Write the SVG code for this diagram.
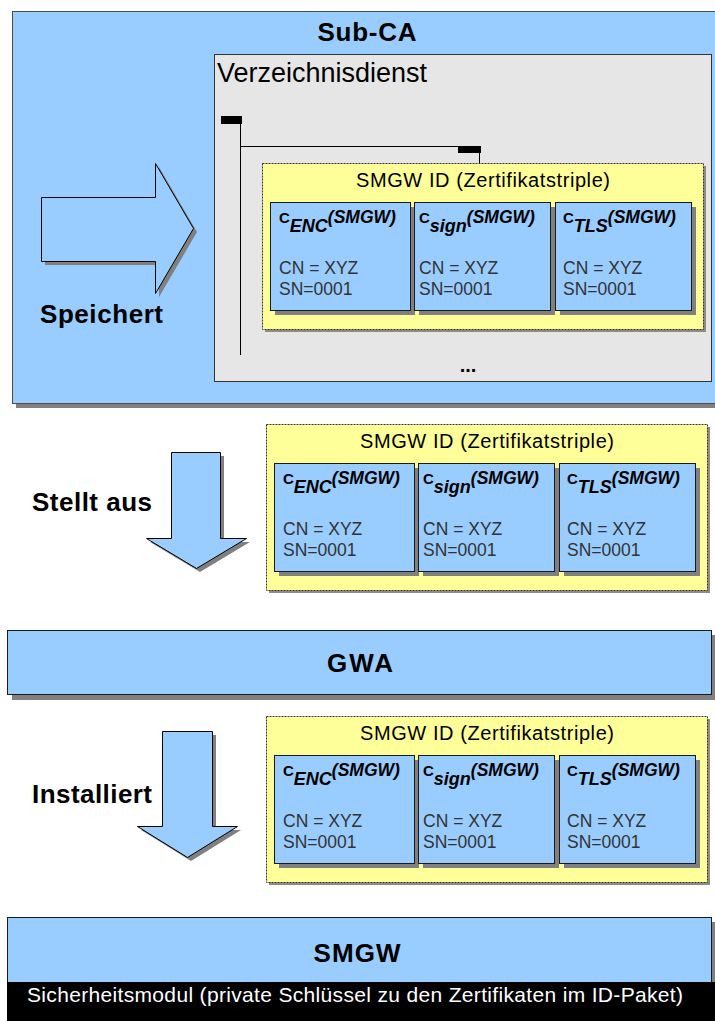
<svg xmlns="http://www.w3.org/2000/svg" width="715" height="1021" viewBox="0 0 715 1021">
  <style>
    text { font-family: "Liberation Sans", Arial, sans-serif; }
    .shadow { fill: #808080; }
    .blue { fill: #99ccff; stroke: #1a1a1a; stroke-width: 1; }
    .frame { fill: #99ccff; stroke: #4d4d4d; stroke-width: 1; }
    .dir { fill: #e6e6e6; stroke: #333333; stroke-width: 1; }
    .idbox { fill: #ffff99; stroke: #333333; stroke-width: 1; stroke-dasharray: 2 1; }
    .idshadow { fill: #8c8c80; }
    .big { font-size: 26px; font-weight: bold; fill: #000; }
    .title { font-size: 20px; fill: #000; text-anchor: middle; }
    .c { font-size: 15px; font-weight: bold; fill: #000; }
    .ci { font-size: 18px; font-weight: bold; font-style: italic; fill: #000; }
    .cs { font-size: 17.5px; font-weight: bold; font-style: italic; fill: #000; }
    .val { font-size: 17.5px; fill: #333333; }
    .tree { stroke: #000; stroke-width: 1; fill: none; }
    .arrow { fill: #99ccff; stroke: #000; stroke-width: 1; stroke-linejoin: miter; }
  </style>

  <defs>
    <!-- one certificate triple: yellow container with three certificate cards -->
    <g id="triple">
      <rect class="idshadow" x="3" y="3" width="441" height="166"/>
      <rect class="idbox" x="0.5" y="0.5" width="441" height="166"/>
      <text class="title" x="221" y="24" textLength="254">SMGW ID (Zertifikatstriple)</text>

      <rect class="shadow" x="13" y="44" width="140" height="108"/>
      <rect class="blue" x="8.5" y="39.5" width="140" height="108"/>
      <rect class="shadow" x="157" y="44" width="136" height="108"/>
      <rect class="blue" x="152.5" y="39.5" width="136" height="108"/>
      <rect class="shadow" x="298" y="44" width="136" height="108"/>
      <rect class="blue" x="293.5" y="39.5" width="136" height="108"/>

      <text x="17" y="60"><tspan class="c">C</tspan><tspan class="ci" dy="9">ENC</tspan><tspan class="cs" dy="-9">(SMGW)</tspan></text>
      <text class="val" x="17" y="111">CN = XYZ</text>
      <text class="val" x="17" y="132">SN=0001</text>

      <text x="157" y="60"><tspan class="c">C</tspan><tspan class="ci" dy="9">sign</tspan><tspan class="cs" dy="-9">(SMGW)</tspan></text>
      <text class="val" x="157" y="111">CN = XYZ</text>
      <text class="val" x="157" y="132">SN=0001</text>

      <text x="301" y="60"><tspan class="c">C</tspan><tspan class="ci" dy="9">TLS</tspan><tspan class="cs" dy="-9">(SMGW)</tspan></text>
      <text class="val" x="301" y="111">CN = XYZ</text>
      <text class="val" x="301" y="132">SN=0001</text>
    </g>
  </defs>

  <rect x="0" y="0" width="715" height="1021" fill="#ffffff"/>

  <!-- Sub-CA -->
  <g id="sub-ca">
    <rect class="shadow" x="16" y="15" width="710" height="393"/>
    <rect class="frame" x="12.5" y="11.5" width="710" height="392"/>
    <text class="big" x="367" y="41" text-anchor="middle" textLength="99">Sub-CA</text>
  </g>

  <!-- directory service -->
  <g id="verzeichnisdienst">
    <rect class="dir" x="214.5" y="54.5" width="497" height="327"/>
    <text x="217" y="82" font-size="27" fill="#000">Verzeichnisdienst</text>
    <text x="468" y="372" font-size="20" font-weight="bold" text-anchor="middle" fill="#000">...</text>
  </g>

  <!-- stored ID package -->
  <g id="id-paket-gespeichert">
    <use href="#triple" transform="translate(262,163)"/>
  </g>

  <!-- issued ID package -->
  <g id="id-paket-ausgestellt">
    <use href="#triple" transform="translate(266,424)"/>
  </g>

  <!-- GWA -->
  <g id="gwa">
    <rect class="shadow" x="12" y="635" width="705" height="65"/>
    <rect class="blue" x="7.5" y="630.5" width="704" height="64"/>
    <text class="big" x="360" y="672" text-anchor="middle" textLength="66">GWA</text>
  </g>

  <!-- installed ID package -->
  <g id="id-paket-installiert">
    <use href="#triple" transform="translate(266,716)"/>
  </g>

  <!-- SMGW with security module -->
  <g id="smgw">
    <rect class="shadow" x="12" y="922" width="710" height="80"/>
    <rect class="blue" x="7.5" y="917.5" width="704" height="65"/>
    <text class="big" x="357" y="962" text-anchor="middle" textLength="87">SMGW</text>
    <rect x="7" y="982" width="708" height="39" fill="#000"/>
    <text x="27" y="1002" font-size="21" fill="#ffffff" textLength="656">Sicherheitsmodul (private Schlüssel zu den Zertifikaten im ID-Paket)</text>
  </g>

  <!-- connectors: directory tree and process arrows -->
  <g id="connectors">
    <rect x="221" y="116" width="21" height="8" fill="#000"/>
    <path class="tree" d="M240.5,124 V355 M240,146.5 H480 M479.5,146 V163"/>
    <rect x="458" y="146" width="23" height="7" fill="#000"/>

    <path class="shadow" d="M45,201 H159 V167 L197,232 L159,297 V265 H45 Z"/>
    <path class="arrow" d="M41.5,197.5 H155.5 V163.5 L193.5,228.5 L155.5,293.5 V261.5 H41.5 Z"/>

    <path class="shadow" d="M175,456 H224 V542 H250 L200,572 L150,542 H175 Z"/>
    <path class="arrow" d="M171.5,452.5 H220.5 V538.5 H246.5 L196.5,568.5 L146.5,538.5 H171.5 Z"/>

    <path class="shadow" d="M166,735 H216 V830 H241 L191,861 L141,830 H166 Z"/>
    <path class="arrow" d="M162.5,731.5 H212.5 V826.5 H237.5 L187.5,857.5 L137.5,826.5 H162.5 Z"/>
  </g>

  <!-- step labels -->
  <g id="label-speichert">
    <text class="big" x="40" y="323" textLength="123">Speichert</text>
  </g>
  <g id="label-stellt-aus">
    <text class="big" x="32" y="511" textLength="120">Stellt aus</text>
  </g>
  <g id="label-installiert">
    <text class="big" x="32" y="803" textLength="120">Installiert</text>
  </g>
</svg>
